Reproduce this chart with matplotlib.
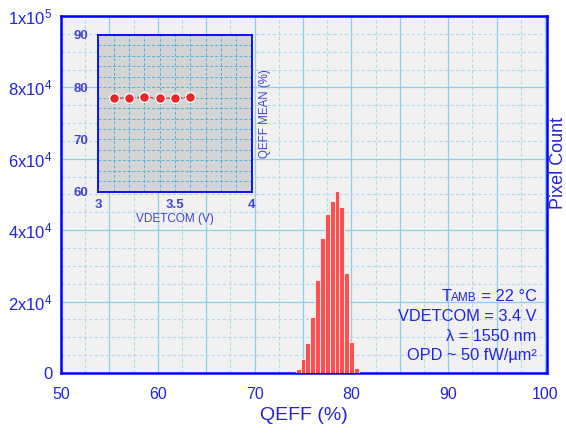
import matplotlib
matplotlib.use("Agg")
import matplotlib.pyplot as plt
from matplotlib.ticker import MultipleLocator, FuncFormatter
from matplotlib.offsetbox import TextArea, HPacker, AnnotationBbox

plt.rcParams['font.family'] = ['Liberation Sans', 'DejaVu Sans']
plt.rcParams['mathtext.fontset'] = 'custom'
plt.rcParams['mathtext.rm'] = 'Liberation Sans'

# histogram of QEFF (bin centres, 0.5 % wide) and pixel counts
qeff_bins = [74.5, 75.0, 75.5, 76.0, 76.5, 77.0, 77.5, 78.0, 78.5, 79.0, 79.5, 80.0, 80.5]
pixel_count = [1100, 3900, 8500, 15800, 26000, 37900, 44400, 48200, 51000, 46400, 28100, 8600, 1300]

# inset: QEFF mean vs VDETCOM
vdetcom = [3.1, 3.2, 3.3, 3.4, 3.5, 3.6]
qeff_mean = [77.9, 78.0, 78.1, 77.9, 77.9, 78.1]

blue = '#0000ff'
txt_blue = '#2323e0'
inset_blue = '#4444d4'

fig = plt.figure(figsize=(5.66, 4.34), dpi=100)
ax = fig.add_axes([0.1078, 0.1406, 0.8587, 0.8226])
ax.set_facecolor('#f1f1f1')

ax.bar(qeff_bins, pixel_count, width=0.5, color='#ff4040', alpha=0.9,
       edgecolor='white', linewidth=0.6, zorder=3)

ax.set_xlim(50, 100.2)
ax.set_ylim(0, 100000)
ax.xaxis.set_major_locator(MultipleLocator(5))
ax.xaxis.set_minor_locator(MultipleLocator(2.5))
ax.yaxis.set_major_locator(MultipleLocator(20000))
ax.yaxis.set_minor_locator(MultipleLocator(5000))


def xfmt(v, pos):
    if abs(v % 10) < 1e-6:
        return '%d' % round(v)
    return ''


def yfmt(v, pos):
    if v == 0:
        return '0'
    e = 0
    m = v
    while m >= 10:
        m /= 10
        e += 1
    return r'$\mathregular{%dx10^{%d}}$' % (round(m), e)


ax.xaxis.set_major_formatter(FuncFormatter(xfmt))
ax.yaxis.set_major_formatter(FuncFormatter(yfmt))
ax.grid(which='major', color='#8ccfea', linestyle='-', linewidth=0.9, zorder=0)
ax.grid(which='minor', color='#addcf0', linestyle=(0, (3, 2)), linewidth=0.8, zorder=0)
ax.set_axisbelow(True)
ax.tick_params(which='both', length=0)
ax.tick_params(axis='x', labelsize=11.5, labelcolor=txt_blue, pad=10)
ax.tick_params(axis='y', labelsize=12, labelcolor=txt_blue, pad=6)
for s in ax.spines.values():
    s.set_color(blue)
    s.set_linewidth(1.8)

ax.set_xlabel('QEFF (%)', fontsize=14, color=txt_blue, labelpad=4)
fig.text(0.986, 0.6244, 'Pixel Count', rotation=90, ha='center', va='center',
         fontsize=13, color=txt_blue)

# condition text, right aligned
tx = 0.979
fs = 11.8
first = HPacker(children=[TextArea('T', textprops=dict(size=fs, color=txt_blue)),
                          TextArea('AMB', textprops=dict(size=fs * 0.72, color=txt_blue)),
                          TextArea(' = 22 \u00b0C', textprops=dict(size=fs, color=txt_blue))],
                align='baseline', pad=0, sep=0)
ab = AnnotationBbox(first, (tx, 0.2137), xycoords='axes fraction',
                    box_alignment=(1, 0.5), frameon=False, pad=0)
ax.add_artist(ab)
lines = ['VDETCOM = 3.4 V', '\u03bb = 1550 nm', 'OPD ~ 50 fW/\u00b5m\u00b2']
ys = [0.1577, 0.1017, 0.0485]
for t, y in zip(lines, ys):
    ax.text(tx, y, t, transform=ax.transAxes, ha='right', va='center',
            fontsize=fs, color=txt_blue, zorder=5)

# inset
ins = fig.add_axes([0.1737, 0.5583, 0.2710, 0.3611])
ins.set_facecolor('#d4d4d4')
ins.plot(vdetcom, qeff_mean, linestyle='--', color='#e83030', linewidth=0.8,
         marker='o', markersize=7, markerfacecolor='#e82828',
         markeredgecolor='white', markeredgewidth=0.9, zorder=4)
ins.set_xlim(3, 4)
ins.set_ylim(60, 90)
ins.set_xticks([3, 3.5, 4])
ins.set_xticklabels(['3', '3.5', '4'])
ins.set_yticks([60, 70, 80, 90])
ins.xaxis.set_minor_locator(MultipleLocator(0.1))
ins.yaxis.set_minor_locator(MultipleLocator(2))
ins.grid(which='both', color='#4fb3dc', linestyle=(0, (3, 2)), linewidth=0.7, zorder=0)
ins.set_axisbelow(True)
ins.tick_params(which='both', length=0)
ins.tick_params(axis='x', labelsize=9.5, labelcolor=inset_blue, pad=5)
ins.tick_params(axis='y', labelsize=9.5, labelcolor=inset_blue, pad=7)
for lab in ins.get_xticklabels() + ins.get_yticklabels():
    lab.set_fontweight('bold')
for s in ins.spines.values():
    s.set_color(blue)
    s.set_linewidth(1.3)
ins.set_xlabel('VDETCOM (V)', fontsize=8.5, color=inset_blue, labelpad=2)
ins.yaxis.set_label_position('right')
ins.set_ylabel('QEFF MEAN (%)', fontsize=8.3, color=inset_blue, labelpad=5)

fig.savefig('out.png', dpi=100)
